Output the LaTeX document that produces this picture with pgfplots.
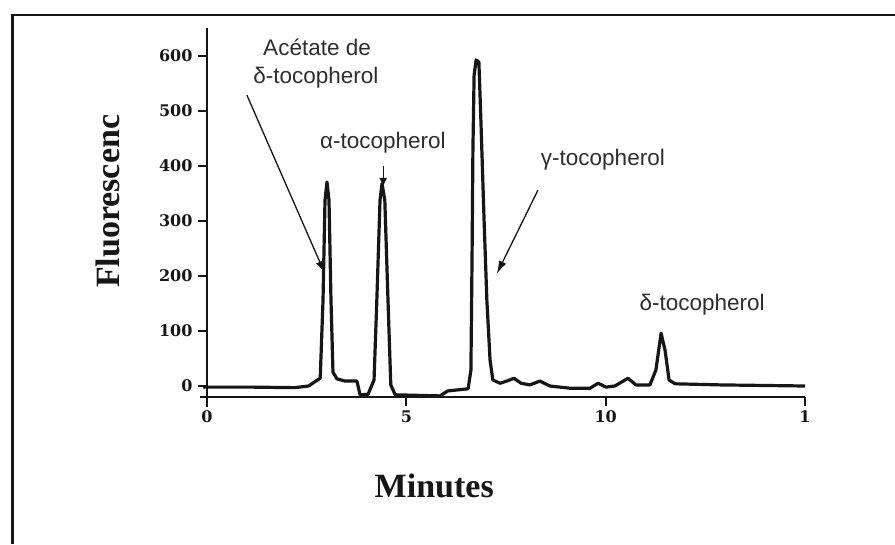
\documentclass[border=0pt]{standalone}
\usepackage{pgfplots}
\pgfplotsset{compat=1.18}
\usepackage{fontspec}
\setmainfont{Liberation Sans}
\newfontfamily\labelfont{Liberation Serif}
\newfontfamily\tickfont{DejaVu Serif}
\usetikzlibrary{arrows.meta}

\definecolor{ink}{HTML}{161616}
\definecolor{note}{HTML}{2E2E2E}

% chromatogram trace: time (min) vs fluorescence
\pgfplotstableread{
t      f
-0.10  -2
1.08   -2
2.20   -3
2.55   0
2.71   8
2.84   14
2.91   156
2.96   338
3.01   371
3.06   338
3.11   156
3.16   25
3.26   13
3.46   9
3.76   9
3.84   -16
4.04   -15
4.19   11
4.26   156
4.34   338
4.39   368
4.46   338
4.54   156
4.61   2
4.72   -16
5.84   -18
6.04   -9
6.55   -5
6.62   29
6.65   247
6.67   429
6.70   565
6.75   593
6.82   589
6.87   484
6.95   302
7.02   156
7.10   47
7.17   11
7.35   5
7.52   9
7.70   14
7.88   5
8.10   2
8.35   9
8.60   0
9.10   -4
9.61   -4
9.81   5
10.01  -2
10.23  0
10.56  14
10.76  2
11.11  2
11.26  29
11.39  96
11.49  65
11.59  11
11.74  4
12.87  2
15.00  0
}\trace

\begin{document}
\begin{tikzpicture}
\path[use as bounding box] (0pt,0pt) rectangle (895pt,544pt);
\fill[white] (0pt,0pt) rectangle (895pt,544pt);
% page frame
\draw[ink, line width=3pt] (12pt,0pt) -- (12pt,530pt);
\draw[ink, line width=2.5pt] (10.5pt,529pt) -- (895pt,529pt);

\begin{axis}[
  at={(207pt,147pt)}, anchor=south west,
  scale only axis, width=598pt, height=369pt,
  xmin=0, xmax=15, ymin=-20, ymax=651,
  clip=false,
  axis x line=bottom, axis y line=left,
  axis line style={-, ink, line width=2pt},
  x axis line style={shorten <=-7pt},
  y axis line style={shorten <=-10pt},
  tick align=outside, major tick length=9pt,
  tick style={ink, line width=2pt},
  xtick={0,5,10,15}, xticklabels={0,5,10,1},
  ytick={0,100,...,600},
  /pgf/number format/assume math mode=true,
  tick label style={font=\tickfont\bfseries\fontsize{16}{16}\selectfont, text=ink},
  yticklabel style={xshift=-2pt},
  xticklabel style={yshift=-1pt},
  xlabel={Minutes}, ylabel={Fluorescenc},
  label style={font=\labelfont\bfseries\fontsize{34}{34}\selectfont, text=ink},
  xlabel style={at={(axis description cs:0.380,-0.241)}, anchor=center},
  ylabel style={at={(axis description cs:-0.1656,0.53)}, anchor=center},
]
\addplot[ink, line width=3.2pt, line join=round] table[x=t, y=f] {\trace};

% peak annotations
\begin{scope}[every node/.style={font=\fontsize{22.5}{24}\selectfont, text=note, inner sep=0pt}]
\node at (axis cs:2.76,615) {Acétate de};
\node at (axis cs:2.73,560) {δ-tocopherol};
\node at (axis cs:4.41,442) {α-tocopherol};
\node at (axis cs:9.93,411) {γ-tocopherol};
\node at (axis cs:12.42,147) {δ-tocopherol};
\end{scope}
\draw[ink, line width=1.3pt, -{Latex[length=13pt,width=8pt]}] (axis cs:1.00,529) -- (axis cs:2.96,204);
\draw[ink, line width=1.3pt, -{Latex[length=9pt,width=8pt]}] (axis cs:4.42,400) -- (axis cs:4.42,362);
\draw[ink, line width=1.3pt, -{Latex[length=13pt,width=8pt]}] (axis cs:8.30,356) -- (axis cs:7.27,204);
\end{axis}
\end{tikzpicture}
\end{document}
